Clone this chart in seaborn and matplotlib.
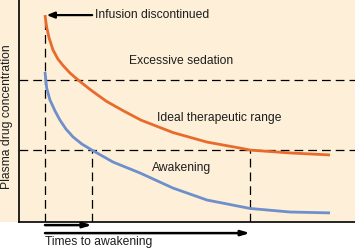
import matplotlib
matplotlib.use("Agg")
import matplotlib.pyplot as plt
import seaborn as sns
import pandas as pd
from matplotlib.patches import Rectangle

# ---- data (time after infusion stop, arbitrary units; concentration, % of axis) ----
orange_t = [0.0, 0.08, 0.20, 0.39, 0.63, 0.88, 1.22, 1.61, 2.20, 2.54, 3.01, 3.80, 4.68, 6.24, 7.90, 9.51, 10.0, 11.95, 13.9]
orange_c = [93.2, 87.8, 82.9, 77.5, 73.4, 70.5, 67.1, 64.0, 59.7, 57.4, 54.3, 50.2, 45.9, 40.3, 36.0, 33.3, 32.4, 31.1, 30.2]
blue_t = [0.0, 0.08, 0.24, 0.49, 0.73, 1.02, 1.37, 1.80, 2.29, 3.32, 4.63, 6.24, 7.90, 10.0, 11.95, 13.9]
blue_c = [67.6, 60.4, 55.0, 50.0, 45.9, 41.9, 38.3, 35.1, 32.4, 27.0, 22.1, 15.3, 9.9, 6.1, 4.5, 4.1]
sedation_level = 64.0
awake_level = 32.4
wake_times = [2.29, 10.0]
labels = ["Infusion discontinued", "Excessive sedation", "Ideal therapeutic range",
          "Awakening", "Times to awakening", "Plasma drug concentration"]

ORANGE = "#E86B2C"
BLUE = "#6E8FCC"
BEIGE = "#FDEFD8"
TXT = "#1e1e1e"

sns.set_style("white")
plt.rcParams["font.family"] = ["Liberation Sans", "DejaVu Sans"]

df = pd.concat([
    pd.DataFrame({"t": orange_t, "c": orange_c, "drug": "long"}),
    pd.DataFrame({"t": blue_t, "c": blue_c, "drug": "short"}),
])

fig = plt.figure(figsize=(3.55, 2.5), dpi=100, facecolor="white")
fig.patches.append(Rectangle((0, 28 / 250), 1, 222 / 250, transform=fig.transFigure,
                             facecolor=BEIGE, edgecolor="none", zorder=-10))
ax = fig.add_axes([19 / 355, 28 / 250, 336 / 355, 222 / 250])
ax.set_facecolor(BEIGE)

sns.lineplot(data=df, x="t", y="c", hue="drug", palette={"long": ORANGE, "short": BLUE},
             linewidth=2.0, legend=False, ax=ax, zorder=3, sort=False)
for l in ax.lines:
    l.set_solid_joinstyle("round")
    l.set_solid_capstyle("butt")

dash = dict(color="black", linewidth=0.9, dashes=(7, 4))
ax.axhline(sedation_level, **dash)
ax.axhline(awake_level, **dash)
ax.vlines(0, 0, orange_c[0], linestyles=(0, (7, 4)), colors="black", linewidth=0.9)
for wt in wake_times:
    ax.vlines(wt, 0, awake_level, linestyles=(0, (7, 4)), colors="black", linewidth=0.9)

ax.set_xlim(-1.268, 15.12)
ax.set_ylim(0, 100)
ax.set_xticks([])
ax.set_yticks([])
ax.set_xlabel("")
ax.set_ylabel("")
for s in ["top", "right"]:
    ax.spines[s].set_visible(False)
for s in ["left", "bottom"]:
    ax.spines[s].set_color("black")
    ax.spines[s].set_linewidth(1.2)

fs = 8.7
ax.annotate("", xy=(0.08, orange_c[0]), xytext=(2.3, orange_c[0]),
            arrowprops=dict(arrowstyle="-|>,head_length=0.45,head_width=0.18", color="black", lw=1.6,
                            shrinkA=0, shrinkB=0))
ax.text(2.42, orange_c[0], labels[0], fontsize=fs, va="center", ha="left", color=TXT)
ax.text(4.1, 72.5, labels[1], fontsize=fs, va="center", ha="left", color=TXT)
ax.text(5.46, 46.8, labels[2], fontsize=fs, va="center", ha="left", color=TXT)
ax.text(5.2, 24.3, labels[3], fontsize=fs, va="center", ha="left", color=TXT)

for wt, yc in zip(wake_times, [-1.4, -5.0]):
    ax.annotate("", xy=(wt, yc), xytext=(0, yc), annotation_clip=False,
                arrowprops=dict(arrowstyle="-|>,head_length=0.5,head_width=0.15", color="black", lw=1.8,
                                shrinkA=0, shrinkB=0))
ax.text(0, -9.2, labels[4], fontsize=fs, va="center", ha="left", color=TXT, clip_on=False)

fig.text(7 / 355, 1 - 117 / 250, labels[5], rotation=90, fontsize=fs, va="center", ha="center",
         color=TXT)

fig.savefig("out.png", dpi=100, facecolor="white")
